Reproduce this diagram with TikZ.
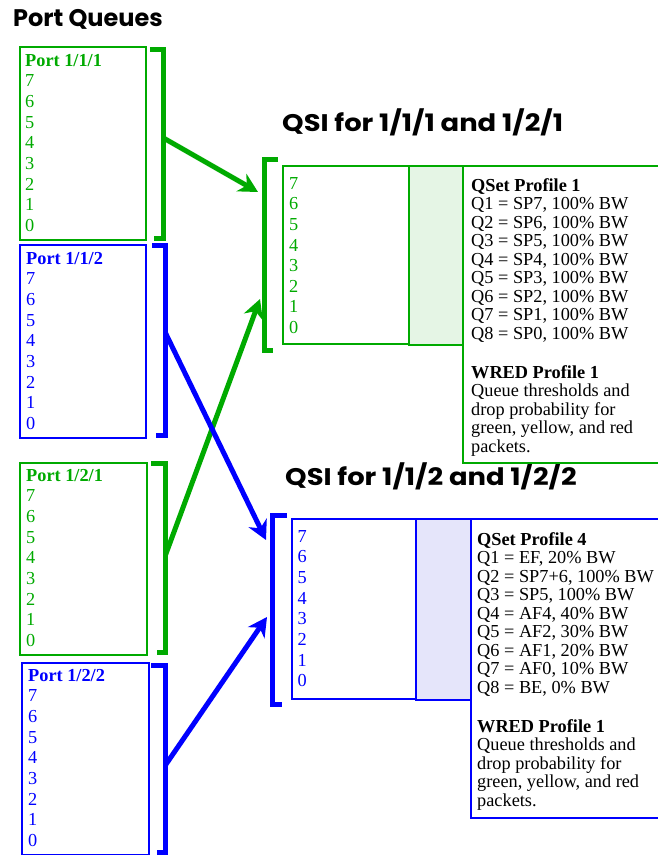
\documentclass[tikz,border=0pt]{standalone}
\usepackage{fontspec}
\setmainfont{Liberation Serif}
\newfontfamily\titlefont{Poppins}
\usetikzlibrary{arrows.meta}
\definecolor{qgreen}{RGB}{0,170,0}
\definecolor{qblue}{RGB}{0,0,255}
\definecolor{lgreen}{RGB}{229,245,229}
\definecolor{lblue}{RGB}{229,229,250}
\begin{document}
\begin{tikzpicture}[x=1pt,y=-1pt,
  box/.style={draw, line width=2pt, inner sep=0pt, outer sep=0pt, anchor=north west},
  bracketline/.style={line width=5pt, line cap=butt, line join=miter},
  conn/.style={line width=5pt, -{Stealth[length=19pt,width=20pt,inset=6pt]}},
  txt/.style={anchor=base west, align=left, inner sep=0pt, font=\fontsize{18.3}{20.65}\selectfont},
  prof/.style={anchor=base west, align=left, inner sep=0pt, font=\fontsize{18.3}{18.5}\selectfont},
  ttl/.style={anchor=base west, inner sep=0pt, font=\titlefont\bfseries\fontsize{24}{28}\selectfont}]
\useasboundingbox (0,0) rectangle (658,855);

% titles
\node[ttl] (tpq) at (13,26) {Port Queues};
\node[ttl] (tq1) at (282,131) {\scalebox{1.14}[1]{QSI for 1/1/1 and 1/2/1}};
\node[ttl] (tq2) at (285,485) {\scalebox{1.14}[1]{QSI for 1/1/2 and 1/2/2}};

% port boxes (text anchored at last line baseline)
\node[box, qgreen, minimum width=126pt, minimum height=193pt] (p111) at (20,47) {};
\node[txt, text=qgreen] (p111t) at (25,231.4) {\textbf{Port 1/1/1}\\7\\6\\5\\4\\3\\2\\1\\0};
\node[box, qblue, minimum width=126pt, minimum height=193pt] (p112) at (20,245) {};
\node[txt, text=qblue] (p112t) at (26,429.4) {\textbf{Port 1/1/2}\\7\\6\\5\\4\\3\\2\\1\\0};
\node[box, qgreen, minimum width=127pt, minimum height=192pt] (p121) at (20,463) {};
\node[txt, text=qgreen] (p121t) at (26,646.4) {\textbf{Port 1/2/1}\\7\\6\\5\\4\\3\\2\\1\\0};
\node[box, qblue, minimum width=127pt, minimum height=192pt] (p122) at (22,663) {};
\node[txt, text=qblue] (p122t) at (28,846.4) {\textbf{Port 1/2/2}\\7\\6\\5\\4\\3\\2\\1\\0};

% port brackets
\draw[bracketline, qgreen] (150,49.5) -- (163.5,49.5) -- (163.5,238.5) -- (154,238.5);
\draw[bracketline, qblue] (152,245.5) -- (165.5,245.5) -- (165.5,435.5) -- (156,435.5);
\draw[bracketline, qgreen] (151,463) -- (165.5,463) -- (165.5,652.5) -- (157,652.5);
\draw[bracketline, qblue] (151,665.5) -- (165.5,665.5) -- (165.5,852) -- (157,852);
\coordinate (b111) at (163.5,138);
\coordinate (b112) at (165.5,333);
\coordinate (b121) at (165.5,555);
\coordinate (b122) at (165.5,765);

% QSI 1
\draw[bracketline, qgreen] (278,159.5) -- (264.5,159.5) -- (264.5,350) -- (273,350);
\node[box, qgreen, minimum width=126pt, minimum height=178pt] (q1l) at (283,166) {};
\node[box, qgreen, fill=lgreen, minimum width=54pt, minimum height=179pt] (q1s) at (409,166) {};
\draw[qgreen, line width=2pt] (663,166) -- (463,166) -- (463,463) -- (663,463);
\node[txt, text=qgreen] (q1d) at (289,333.6) {7\\6\\5\\4\\3\\2\\1\\0};
\node[prof] (q1p) at (471,452) {\textbf{QSet Profile 1}\\Q1 = SP7, 100\% BW\\Q2 = SP6, 100\% BW\\Q3 = SP5, 100\% BW\\Q4 = SP4, 100\% BW\\Q5 = SP3, 100\% BW\\Q6 = SP2, 100\% BW\\Q7 = SP1, 100\% BW\\Q8 = SP0, 100\% BW\\[20.5pt]\textbf{WRED Profile 1}\\Queue thresholds and\\drop probability for\\green, yellow, and red\\packets.};
\coordinate (q1a) at (258,192);
\coordinate (q1b) at (260,299);

% QSI 2
\draw[bracketline, qblue] (287,515.5) -- (272,515.5) -- (272,704.5) -- (282,704.5);
\node[box, qblue, minimum width=124pt, minimum height=180pt] (q2l) at (292,519) {};
\node[box, qblue, fill=lblue, minimum width=55pt, minimum height=181pt] (q2s) at (416,519) {};
\draw[qblue, line width=2pt] (663,519) -- (470.5,519) -- (470.5,818) -- (663,818);
\node[txt, text=qblue] (q2d) at (297.5,686.7) {7\\6\\5\\4\\3\\2\\1\\0};
\node[prof] (q2p) at (477,806) {\textbf{QSet Profile 4}\\Q1 = EF, 20\% BW\\Q2 = SP7+6, 100\% BW\\Q3 = SP5, 100\% BW\\Q4 = AF4, 40\% BW\\Q5 = AF2, 30\% BW\\Q6 = AF1, 20\% BW\\Q7 = AF0, 10\% BW\\Q8 = BE, 0\% BW\\[20.5pt]\textbf{WRED Profile 1}\\Queue thresholds and\\drop probability for\\green, yellow, and red\\packets.};
\coordinate (q2a) at (266,540);
\coordinate (q2b) at (267,617);

% connectors
\draw[conn, qgreen] (b111) -- (q1a);
\draw[conn, qgreen] (b121) -- (q1b);
\draw[conn, qblue] (b112) -- (q2a);
\draw[conn, qblue] (b122) -- (q2b);
\end{tikzpicture}
\end{document}
